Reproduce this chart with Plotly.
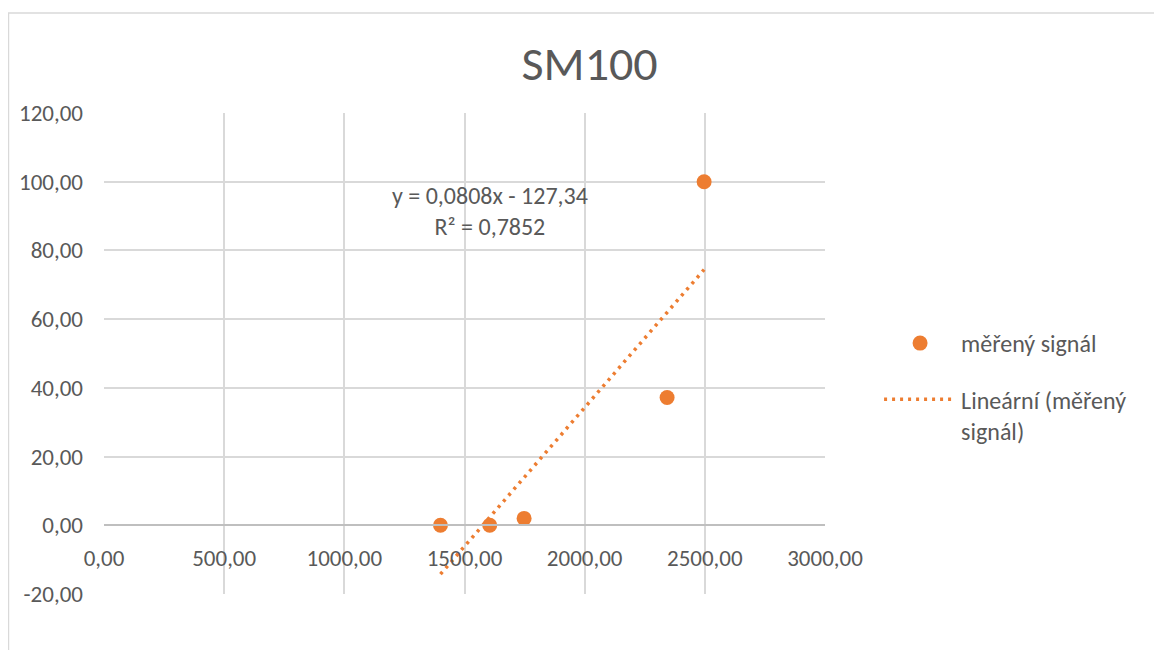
import numpy as np
import plotly.graph_objects as go

# Data
x_vals = [1400, 1605, 1748, 2343, 2497]
y_vals = [0.0, 0.0, 2.0, 37.2, 100.0]
slope = 0.0808
intercept = -127.34
eq_text = "y = 0,0808x - 127,34<br>R² = 0,7852"
title_text = "SM100"
series_name = "měřený signál"
trend_name = "Lineární (měřený<br>signál)"
y_tickvals = [-20, 0, 20, 40, 60, 80, 100, 120]
y_ticktext = ["-20,00", "0,00", "20,00", "40,00", "60,00", "80,00", "100,00", "120,00"]

orange = "#ED7D31"
txt = "#595959"
grid = "#D9D9D9"
font_fam = "Carlito, Lato, 'Open Sans', sans-serif"

tx = np.array([min(x_vals), max(x_vals)])
ty = slope * tx + intercept

fig = go.Figure()
fig.add_trace(go.Scatter(x=x_vals, y=y_vals, mode="markers", name=series_name,
                         legendgroup="a",
                         marker=dict(color=orange, size=15)))
fig.add_trace(go.Scatter(x=tx, y=ty, mode="lines", name=trend_name,
                         legendgroup="b",
                         line=dict(color=orange, width=3.5, dash="3px,5px")))

fig.add_annotation(x=1608, y=91.4, xref="x", yref="y", text=eq_text, showarrow=False,
                   font=dict(size=24, color=txt, family=font_fam), align="center")

# chart border (partially visible frame)
fig.add_shape(type="rect", xref="paper", yref="paper",
              x0=-0.1325, x1=1.6, y0=-0.5, y1=1.208,
              line=dict(color=grid, width=1.5), layer="below")

fig.update_layout(
    width=1154, height=642,
    margin=dict(l=96, r=337, t=105, b=56),
    paper_bgcolor="white", plot_bgcolor="white",
    separators=",.",
    font=dict(family=font_fam, color=txt, size=23),
    title=dict(text=title_text, x=0.504, xanchor="center", xref="container",
               y=0.914, yanchor="middle", yref="container",
               font=dict(size=48, color=txt, family=font_fam, weight=300)),
    showlegend=True,
    legend=dict(x=1.075, y=0.5676, xanchor="left", yanchor="top",
                font=dict(size=24, color=txt, family=font_fam),
                itemwidth=72, traceorder="grouped", tracegroupgap=22,
                valign="top", bgcolor="rgba(0,0,0,0)"),
)
fig.update_xaxes(range=[0, 3000], dtick=500, tick0=0, tickformat=".2f",
                 showgrid=True, gridcolor=grid, gridwidth=1.5,
                 zeroline=False, showline=True, linecolor="#BFBFBF", linewidth=1.5,
                 anchor="free", position=20/140, ticks="", ticklabelstandoff=12,
                 tickfont=dict(size=23, color=txt))
fig.update_yaxes(range=[-20, 120], tickvals=y_tickvals, ticktext=y_ticktext,
                 showgrid=True, gridcolor=grid, gridwidth=1.5,
                 zeroline=False, showline=False, ticks="", ticklabelstandoff=20,
                 tickfont=dict(size=23, color=txt))

fig.write_html("out.html")
